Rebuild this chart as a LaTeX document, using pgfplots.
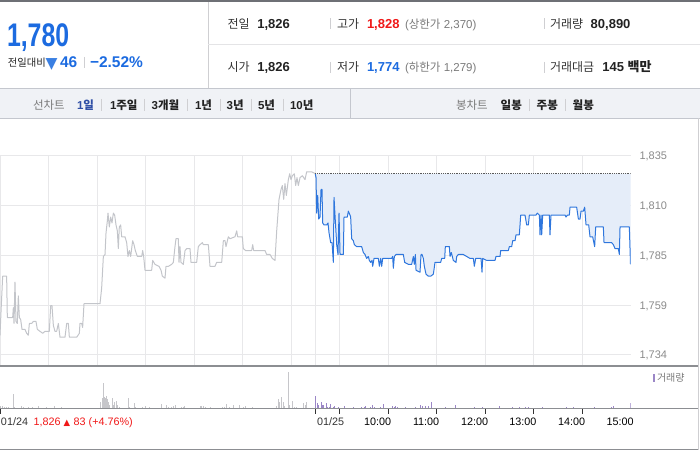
\documentclass[border=0pt]{standalone}
\usepackage{fontspec}
\setmainfont{Liberation Sans}
\newfontfamily\kr{Noto Sans CJK KR}
\newfontfamily\djv{DejaVu Sans}
\usepackage{graphicx}
\usepackage{pgfplots}
\pgfplotsset{compat=1.18}
\usepgfplotslibrary{fillbetween}
\newcommand\fs[1]{\fontsize{#1}{#1}\selectfont}
\definecolor{nblue}{HTML}{1C6BE0}
\definecolor{nred}{HTML}{F01818}
\definecolor{lineblue}{HTML}{2E76DD}
\definecolor{fillblue}{HTML}{E5EDF9}
\definecolor{graylinec}{HTML}{C3C5CA}
\definecolor{gridc}{HTML}{E8E8EA}
\definecolor{volgray}{HTML}{C6C6CA}
\definecolor{volpurple}{HTML}{9B87C7}
\definecolor{hdrdark}{HTML}{6E7075}
\definecolor{sepgray}{HTML}{CFCFD2}
\definecolor{rowline}{HTML}{E4E4E6}
\definecolor{menubg}{HTML}{F0F2F6}
\definecolor{menuborder}{HTML}{C4C7CE}
\definecolor{lbl}{HTML}{333333}
\definecolor{val}{HTML}{222222}
\definecolor{gtext}{HTML}{7A7A7A}
\definecolor{navy}{HTML}{2F4FA6}
\definecolor{ticklbl}{HTML}{8A8A8A}
\definecolor{panelline}{HTML}{8C8E92}
\definecolor{tickc}{HTML}{333333}
\definecolor{tri}{HTML}{3A7FE2}
\tikzset{t/.style={anchor=base west, inner sep=0pt, outer sep=0pt}}
\begin{document}
\begin{tikzpicture}
% ---------------- price panel ----------------
\begin{axis}[
 at={(0pt,84pt)}, anchor=south west, scale only axis,
 width=630.5pt, height=210pt,
 xmin=0, xmax=13, ymin=1728.4, ymax=1835,
 set layers,
 axis line style={draw=none},
 xtick={0,1,2,3,4,5,6,6.5,7,8,9,10,11,12}, xticklabels={},
 ytick={1734,1759.25,1784.5,1809.75,1835},
 yticklabels={{1,734},{1,759},{1,785},{1,810},{1,835}},
 yticklabel pos=right,
 yticklabel style={anchor=base west, inner sep=0pt, xshift=8.8pt, yshift=-3.9pt, font={\fontsize{11}{11}\selectfont}, text=ticklbl},
 major tick length=0pt, tick style={draw=none},
 grid=major, major grid style={line width=1pt, color=gridc},
]
\addplot[name path=bl, color=lineblue, line width=1pt, line join=round] table {
6.500 1826
6.516 1824
6.529 1806
6.550 1815
6.571 1803
6.598 1804
6.619 1818
6.639 1818
6.653 1801
6.681 1800
6.736 1800
6.763 1801
6.784 1796
6.818 1791
6.846 1791
6.873 1781
6.887 1814
6.907 1805
6.942 1790
6.969 1785
6.990 1806
7.011 1785
7.079 1785
7.093 1804
7.162 1804
7.182 1807
7.217 1805
7.230 1804
7.251 1793
7.285 1792
7.306 1790
7.354 1789
7.457 1789
7.492 1786
7.526 1785
7.560 1783
7.595 1784
7.615 1782
7.643 1781
7.670 1782
7.684 1779
7.712 1783
7.801 1783
7.822 1779
7.849 1783
7.870 1779
7.890 1783
8.076 1783
8.096 1784
8.110 1778
8.131 1784
8.165 1785
8.316 1785
8.344 1781
8.419 1780
8.488 1780
8.523 1784
8.543 1780
8.564 1785
8.578 1777
8.660 1776
8.681 1785
8.701 1785
8.729 1783
8.749 1779
8.784 1775
8.832 1774
8.880 1774
8.935 1775
8.969 1781
9.086 1781
9.107 1783
9.169 1783
9.182 1789
9.265 1789
9.279 1784
9.306 1786
9.347 1782
9.402 1781
9.416 1784
9.450 1785
9.553 1785
9.622 1784
9.691 1783
9.760 1783
9.780 1779
9.808 1783
9.918 1783
9.938 1776
9.952 1783
10.035 1782
10.069 1782
10.206 1782
10.227 1784
10.310 1784
10.323 1787
10.481 1787
10.502 1789
10.550 1789
10.571 1792
10.619 1792
10.639 1795
10.708 1795
10.736 1805
10.825 1805
10.859 1800
10.894 1800
10.914 1805
11.052 1805
11.079 1806
11.121 1805
11.134 1795
11.155 1805
11.169 1795
11.189 1805
11.327 1805
11.340 1795
11.361 1805
11.650 1805
11.670 1804
11.698 1805
11.739 1805
11.753 1809
11.890 1809
11.925 1803
11.959 1803
11.980 1807
12.028 1807
12.055 1809
12.083 1800
12.138 1800
12.165 1794
12.220 1794
12.261 1789
12.282 1799
12.440 1799
12.454 1791
12.612 1791
12.646 1790
12.681 1788
12.749 1788
12.770 1785
12.784 1799
12.976 1799
13.000 1780
};
\addplot[name path=ref, draw=none] coordinates {(6.5,1826) (13,1826)};
\addplot[fill=fillblue, draw=none, on layer=axis background] fill between[of=bl and ref];
\addplot[color=graylinec, line width=1pt, line join=round] table {
0 1744
0.021 1756
0.055 1774
0.137 1774
0.151 1753
0.261 1753
0.275 1758
0.289 1750
0.309 1771
0.330 1751
0.357 1750
0.378 1764
0.399 1753
0.426 1752
0.454 1747
0.515 1747
0.550 1745
0.584 1744
0.605 1750
0.653 1750
0.687 1751
0.742 1751
0.770 1747
0.825 1746
0.880 1745
0.928 1746
1.017 1746
1.045 1759
1.072 1759
1.100 1749
1.134 1746
1.168 1746
1.203 1750
1.237 1743
1.340 1743
1.375 1750
1.409 1750
1.430 1743
1.581 1743
1.636 1745
1.649 1750
1.684 1750
1.704 1748
1.732 1760
2.062 1760
2.096 1768
2.131 1784
2.165 1785
2.186 1796
2.213 1802
2.227 1806
2.254 1799
2.282 1804
2.309 1801
2.337 1806
2.364 1805
2.392 1800
2.419 1797
2.440 1788
2.460 1799
2.488 1800
2.509 1794
2.577 1794
2.612 1791
2.639 1784
2.667 1787
2.694 1784
2.735 1792
2.763 1790
2.790 1787
2.832 1784
2.921 1784
2.942 1787
2.962 1784
2.990 1777
3.127 1777
3.148 1782
3.196 1780
3.278 1779
3.320 1777
3.347 1774
3.402 1773
3.423 1779
3.471 1779
3.540 1780
3.574 1781
3.608 1789
3.629 1793
3.677 1793
3.691 1781
3.711 1789
3.732 1781
3.780 1780
3.815 1787
3.849 1788
3.918 1788
3.938 1781
4.055 1781
4.089 1789
4.124 1790
4.172 1791
4.193 1790
4.296 1790
4.330 1779
4.433 1779
4.467 1781
4.571 1781
4.605 1792
4.639 1792
4.660 1789
4.708 1794
4.742 1793
4.845 1794
4.880 1797
4.900 1794
4.997 1794
5.017 1788
5.065 1787
5.189 1787
5.210 1790
5.230 1787
5.464 1787
5.498 1785
5.567 1785
5.615 1783
5.670 1782
5.705 1797
5.753 1813
5.794 1818
5.821 1820
5.849 1813
5.876 1821
5.904 1815
5.945 1823
5.973 1826
6.000 1823
6.028 1825
6.069 1826
6.096 1820
6.124 1824
6.151 1820
6.186 1824
6.234 1825
6.289 1823
6.323 1827
6.426 1827
6.500 1826
};
\addplot[densely dotted, color=black!65, line width=0.8pt] coordinates {(6.5,1826) (13,1826)};
\end{axis}
% ---------------- volume panel ----------------
\begin{axis}[
 at={(0pt,41.7pt)}, anchor=south west, scale only axis,
 width=630.5pt, height=42.3pt,
 xmin=0, xmax=13, ymin=0, ymax=42.3,
 axis line style={draw=none},
 xtick={0,6.5,7,8,9,10,11,12}, xticklabels={},
 ytick=\empty,
 xtick pos=left, tick align=outside, major tick length=5.5pt,
 tick style={line width=1pt, color=tickc},
]
\addplot[ycomb, color=volgray, line width=1pt] table {
0.014 2
0.055 2
0.103 1.3
0.137 1.3
0.172 1.3
0.275 14
0.309 1.3
0.447 2.3
0.481 1.7
0.584 1.3
0.667 1.3
0.790 2
0.962 1
1.134 2.3
1.271 1
2.076 6
2.110 10.7
2.131 25
2.151 11.7
2.172 10
2.192 12.7
2.213 9.3
2.234 6
2.268 3.3
2.316 10
2.337 3.3
2.371 6
2.405 7.3
2.426 3
2.460 1.7
2.646 10
2.680 1.7
2.770 5
2.804 1.3
2.942 1.3
2.990 2.3
3.079 1.3
3.333 4
3.423 3.3
3.471 1.3
3.540 1.3
3.574 2
3.622 3
3.746 1.3
3.780 1.7
3.814 2.7
4.124 2
4.158 2
4.206 2
4.247 1.3
4.330 1.7
4.584 1.3
4.619 1.3
4.674 4
4.728 1.7
4.811 3.3
4.948 3.3
5.017 1.7
5.065 2
5.203 1.3
5.704 2.7
5.739 9
5.773 6.7
5.808 11.7
5.842 6.7
5.876 2.7
5.945 36
5.979 3.3
6.034 7.3
6.069 1.7
6.117 1.7
6.254 5
6.289 3.3
6.323 6
};
\addplot[ycomb, color=volpurple, line width=1pt] table {
6.515 12
6.536 5
6.557 3.3
6.619 6
6.646 3.3
6.667 3.3
6.722 5
6.749 1.7
6.790 1.7
6.818 4
6.873 1.7
6.907 2.3
6.976 1.3
7.100 2.3
7.285 1.3
7.457 1.3
7.512 1.7
7.546 2.3
7.643 1.7
7.670 3.3
7.718 1.3
7.835 1.3
7.904 4.3
8.096 2.3
8.124 1.7
8.158 2.3
8.192 1.7
8.351 1
8.577 1
8.674 3.3
8.701 2.7
8.763 2.3
8.832 2.7
8.893 6.3
9.182 1
9.388 3.3
9.780 1
9.945 1
10.309 2.3
10.564 1
10.708 1
10.838 1
10.893 1
11.182 1
11.684 1
11.821 1
12.254 1.3
12.612 1.7
12.646 2.7
12.990 5
};
\end{axis}
% ---------------- header, menu, labels ----------------
\begin{scope}[yshift=450pt, x=1pt, y=-1pt]
 \fill[hdrdark] (0,0) rectangle (700,2.3);
 \draw[line width=1pt, sepgray] (208.3,2.3) -- (208.3,88);
 \draw[line width=1pt, rowline] (208.3,45) -- (700,45);
 \fill[menubg] (0,88.3) rectangle (700,118.3);
 \draw[line width=1pt, menuborder] (0,88.3) -- (700,88.3);
 \draw[line width=1pt, menuborder] (0,118.3) -- (700,118.3);
 \draw[line width=1pt, menuborder] (350.7,88.3) -- (350.7,118.3);
 % left panel
 \node[t, text=nblue] at (7,46.7) {\scalebox{0.76}[1]{\fs{32.7}\bfseries 1,780}};
 \node[t, text=val] at (8,66.7) {\kr\fs{10.3}전일대비};
 \node[t, text=tri] at (45.5,68.3) {\djv\fs{15.5}▼};
 \node[t, text=nblue] at (60,67.7) {\fs{15.5}\bfseries 46};
 \draw[line width=1pt, sepgray] (84,57) -- (84,68);
 \node[t, text=nblue] at (90,67.7) {\fs{15.5}\bfseries −2.52\%};
 % row 1
 \node[t, text=lbl] at (227.7,28.7) {\kr\fs{12}전일};
 \node[t, text=val] at (257.3,28.7) {\fs{13}\bfseries 1,826};
 \draw[line width=1pt, sepgray] (330.7,18.5) -- (330.7,29.5);
 \node[t, text=lbl] at (337,28.7) {\kr\fs{12}고가};
 \node[t, text=nred] at (367,28.7) {\fs{13}\bfseries 1,828};
 \node[t, text=gtext] at (405,28.7) {\fs{11.5}({\kr 상한가} 2,370)};
 \draw[line width=1pt, sepgray] (544.3,18.5) -- (544.3,29.5);
 \node[t, text=lbl] at (550,28.7) {\kr\fs{12}거래량};
 \node[t, text=val] at (590.7,28.7) {\fs{13}\bfseries 80,890};
 % row 2
 \node[t, text=lbl] at (227.7,72) {\kr\fs{12}시가};
 \node[t, text=val] at (257.3,72) {\fs{13}\bfseries 1,826};
 \draw[line width=1pt, sepgray] (330.7,61.8) -- (330.7,72.8);
 \node[t, text=lbl] at (337,72) {\kr\fs{12}저가};
 \node[t, text=nblue] at (367,72) {\fs{13}\bfseries 1,774};
 \node[t, text=gtext] at (405,72) {\fs{11.5}({\kr 하한가} 1,279)};
 \draw[line width=1pt, sepgray] (544.3,61.8) -- (544.3,72.8);
 \node[t, text=lbl] at (550,72) {\kr\fs{12}거래대금};
 \node[t, text=val] at (602.3,72) {\fs{13}\bfseries 145 {\kr 백만}};
 % menu bar
 \node[t, text=gtext] at (33,109.5) {\kr\fs{11.5}선차트};
 \node[t, text=navy] at (77,109.5) {\fs{11.5}\bfseries 1{\kr 일}};
 \node[t, text=val] at (110,109.5) {\fs{11.5}\bfseries 1{\kr 주일}};
 \node[t, text=val] at (151.7,109.5) {\fs{11.5}\bfseries 3{\kr 개월}};
 \node[t, text=val] at (195,109.5) {\fs{11.5}\bfseries 1{\kr 년}};
 \node[t, text=val] at (226.7,109.5) {\fs{11.5}\bfseries 3{\kr 년}};
 \node[t, text=val] at (258,109.5) {\fs{11.5}\bfseries 5{\kr 년}};
 \node[t, text=val] at (290,109.5) {\fs{11.5}\bfseries 10{\kr 년}};
 \foreach \sx in {101.7,144.3,187.3,220,251.7,283.3,529.3,565}
   \draw[line width=1pt, sepgray] (\sx,99) -- (\sx,111);
 \node[t, text=gtext] at (456,109.5) {\kr\fs{11.5}봉차트};
 \node[t, text=val] at (500.7,109.5) {\kr\fs{11.5}\bfseries 일봉};
 \node[t, text=val] at (536.7,109.5) {\kr\fs{11.5}\bfseries 주봉};
 \node[t, text=val] at (572.7,109.5) {\kr\fs{11.5}\bfseries 월봉};
 % chart frame lines
 \draw[line width=1.3pt, panelline] (0,366) -- (698,366);
 \draw[line width=1pt, panelline] (0,408.3) -- (698,408.3);
 \draw[line width=1pt, sepgray] (698,118.3) -- (698,450);
 \draw[line width=1.2pt, panelline] (0,449.3) -- (698,449.3);
 % legend
 \fill[volpurple] (652.5,373.5) rectangle (655,382);
 \node[t, text=gtext] at (657,381.5) {\kr\fs{10}거래량};
 % time labels
 \node[t, text=lbl] at (1,425.3) {\fs{10.8}01/24};
 \node[t, text=nred] at (33.5,425.3) {\fs{10.8}1,826};
 \node[t, text=nred] at (63.5,425.3) {\djv\fs{8.5}▲};
 \node[t, text=nred] at (73.7,425.3) {\fs{10.8}83 (+4.76\%)};
 \node[t, text=lbl] at (317,425.3) {\fs{10.8}01/25};
 \node[t, text=black] at (364,425.3) {\fs{10.8}10:00};
 \node[t, text=black] at (413,425.3) {\fs{10.8}11:00};
 \node[t, text=black] at (461,425.3) {\fs{10.8}12:00};
 \node[t, text=black] at (509.3,425.3) {\fs{10.8}13:00};
 \node[t, text=black] at (558,425.3) {\fs{10.8}14:00};
 \node[t, text=black] at (606.5,425.3) {\fs{10.8}15:00};
\end{scope}
\pgfresetboundingbox
\useasboundingbox (0,0) rectangle (700pt,450pt);
\end{tikzpicture}
\end{document}
